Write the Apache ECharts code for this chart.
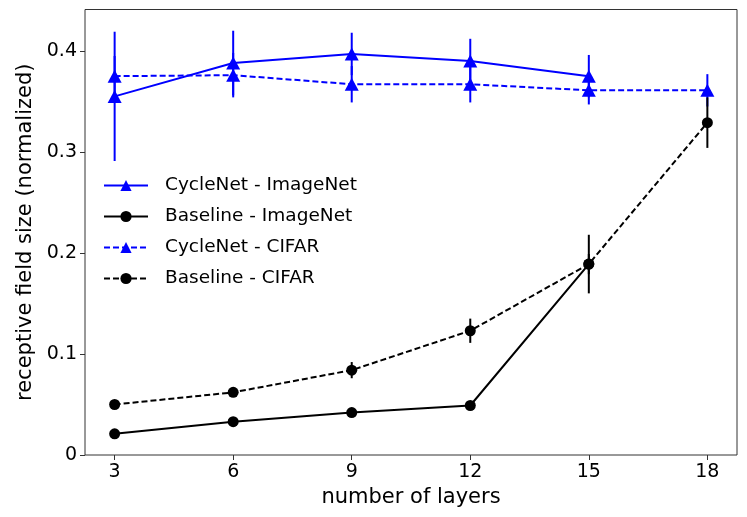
<!DOCTYPE html>
<html>
<head>
<meta charset="utf-8">
<script src="https://cdn.jsdelivr.net/npm/echarts@6/dist/echarts.min.js"></script>
<style>
  html, body { margin: 0; padding: 0; background: #fff; }
  #chart { width: 747px; height: 517px; }
</style>
</head>
<body>
<div id="chart"></div>
<script>
// number of layers
const layers = [3, 6, 9, 12, 15, 18];
const xTicks = [3, 6, 9, 12, 15, 18];
const yTicks = [0, 0.1, 0.2, 0.3, 0.4];

// (mean and half error bar)
const cycleImgMean = [0.355, 0.388, 0.397, 0.390, 0.375];
const cycleImgErr  = [0.064, 0.032, 0.021, 0.022, 0.021];
const baseImgMean  = [0.021, 0.033, 0.042, 0.049, 0.189];
const baseImgErr   = [0.002, 0.002, 0.002, 0.002, 0.029];
const cycleCifMean = [0.375, 0.376, 0.367, 0.367, 0.361, 0.361];
const cycleCifErr  = [0.020, 0.022, 0.018, 0.018, 0.014, 0.016];
const baseCifMean  = [0.050, 0.062, 0.084, 0.123, 0.189, 0.329];
const baseCifErr   = [0.003, 0.003, 0.008, 0.012, 0.010, 0.025];

const BLUE = '#0000ff';
const BLACK = '#000000';
const LW = 2;

function pts(mean){
    return mean.map(function(v, i){ return [layers[i], v]; });
}
function bars(mean, err){
    return mean.map(function(v, i){ return [layers[i], v - err[i], v + err[i]]; });
}

function errSeries(mean, err, color){
    return {
        type: 'custom',
        silent: true,
        animation: false,
        data: bars(mean, err),
        encode: { x: 0, y: [1, 2] },
        renderItem: function(params, api){
            let x = api.value(0);
            let p1 = api.coord([x, api.value(1)]);
            let p2 = api.coord([x, api.value(2)]);
            return {
                type: 'line',
                shape: { x1: p1[0], y1: p1[1], x2: p2[0], y2: p2[1] },
                style: { stroke: color, lineWidth: LW }
            };
        }
    };
}

function lineSeries(name, mean, color, dashed, symbol, size){
    return {
        name: name,
        type: 'line',
        silent: true,
        animation: false,
        data: pts(mean),
        symbol: symbol,
        symbolSize: size,
        showSymbol: true,
        itemStyle: { color: color, borderWidth: 0 },
        lineStyle: { color: color, width: LW, type: dashed ? [6, 3] : 'solid' },
        emphasis: { disabled: true }
    };
}

const names = ['CycleNet - ImageNet', 'Baseline - ImageNet', 'CycleNet - CIFAR', 'Baseline - CIFAR'];

let myChart = echarts.init(document.getElementById('chart'), null, { renderer: 'canvas' });

let option = {
    backgroundColor: '#fff',
    textStyle: { fontFamily: 'DejaVu Sans' },
    grid: {
        left: 85, top: 9.5, right: 10, bottom: 62,
        show: true, borderColor: '#333', borderWidth: 1, backgroundColor: 'transparent'
    },
    legend: {
        data: names,
        orient: 'vertical',
        left: 98,
        top: 171,
        itemWidth: 44,
        itemHeight: 14,
        itemGap: 12,
        selectedMode: false,
        textStyle: { fontSize: 18.5, color: '#000', lineHeight: 19, padding: [0, 0, 0, 12], fontFamily: 'DejaVu Sans' }
    },
    xAxis: {
        type: 'value',
        min: 2.25,
        max: 18.75,
        name: 'number of layers',
        nameLocation: 'middle',
        nameGap: 31,
        nameTextStyle: { fontSize: 21, color: '#000' },
        splitLine: { show: false },
        axisLine: { show: false },
        axisTick: { show: true, length: 5, lineStyle: { color: '#333' }, customValues: xTicks },
        axisLabel: { fontSize: 19, color: '#000', margin: 8, customValues: xTicks }
    },
    yAxis: {
        type: 'value',
        min: 0,
        max: 0.441,
        name: 'receptive field size (normalized)',
        nameLocation: 'middle',
        nameRotate: 90,
        nameGap: 48,
        nameTextStyle: { fontSize: 21, color: '#000' },
        splitLine: { show: false },
        axisLine: { show: false },
        axisTick: { show: true, length: 5, lineStyle: { color: '#333' }, customValues: yTicks },
        axisLabel: { fontSize: 19, color: '#000', margin: 8, customValues: yTicks,
            formatter: function(v){ return String(+v.toFixed(2)); } }
    },
    series: [
        errSeries(cycleImgMean, cycleImgErr, BLUE),
        lineSeries(names[0], cycleImgMean, BLUE, false, 'triangle', [14, 13]),
        errSeries(baseImgMean, baseImgErr, BLACK),
        lineSeries(names[1], baseImgMean, BLACK, false, 'circle', 11),
        errSeries(cycleCifMean, cycleCifErr, BLUE),
        lineSeries(names[2], cycleCifMean, BLUE, true, 'triangle', [14, 13]),
        errSeries(baseCifMean, baseCifErr, BLACK),
        lineSeries(names[3], baseCifMean, BLACK, true, 'circle', 11)
    ]
};

myChart.setOption(option);
</script>
</body>
</html>
